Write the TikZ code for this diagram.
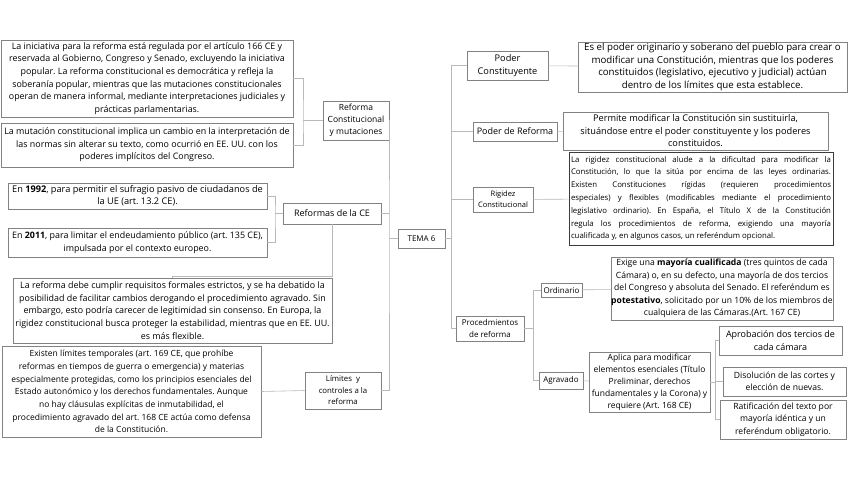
\documentclass[tikz,border=0pt]{standalone}
\usepackage{fontspec}
\setmainfont{Open Sans}
\usetikzlibrary{positioning,calc}
\definecolor{cBox}{RGB}{130,130,130}
\definecolor{cLink}{RGB}{185,185,185}
\definecolor{cDark}{RGB}{60,60,60}
\newcommand{\fsz}[2]{\fontsize{#1}{#2}\selectfont}
\frenchspacing

\begin{document}
\begin{tikzpicture}[
    x=1pt, y=-1pt,
    leaf/.style={draw=cBox,fill=white,align=center,inner sep=0pt,line width=0.6pt},
    topic/.style={leaf,font=\fsz{8.5}{12}},
    link/.style={draw=cLink,line width=0.6pt}
  ]
  \useasboundingbox (0,0) rectangle (848,477);
  % Centre
  \node[topic,minimum width=47pt,minimum height=19pt,font=\fsz{8}{11}] (tema) at (421.5,238.5) {TEMA 6};
  % Left topics
  \node[topic,minimum width=66pt,minimum height=39pt] (rcm) at (356,120.5) {Reforma\\Constitucional\\y mutaciones};
  \node[topic,minimum width=98pt,minimum height=21pt,font=\fsz{9}{12}] (ref) at (332,213.5) {Reformas de la CE};
  \node[topic,minimum width=76pt,minimum height=37pt,font=\fsz{7.8}{11.5}] (lim) at (343,390.5) {Límites~ y\\controles a la\\reforma};
  % Left texts
  \node[leaf,minimum width=292pt,minimum height=77pt,font=\fsz{8.9}{12.6}] (l1) at (147,78.5) {La iniciativa para la reforma está regulada por el artículo 166 CE y\\reservada al Gobierno, Congreso y Senado, excluyendo la iniciativa\\popular. La reforma constitucional es democrática y refleja la\\soberanía popular, mientras que las mutaciones constitucionales\\operan de manera informal, mediante interpretaciones judiciales y\\prácticas parlamentarias.};
  \node[leaf,minimum width=292pt,minimum height=44pt,font=\fsz{8.9}{12.6}] (l2) at (147,145) {La mutación constitucional implica un cambio en la interpretación de\\las normas sin alterar su texto, como ocurrió en EE. UU. con los\\poderes implícitos del Congreso.};
  \node[leaf,minimum width=259pt,minimum height=26pt,font=\fsz{9.2}{12}] (l3) at (137.5,196) {En \textbf{1992}, para permitir el sufragio pasivo de ciudadanos de\\la UE (art. 13.2 CE).};
  \node[leaf,minimum width=259pt,minimum height=29pt,font=\fsz{8.9}{12.6}] (l4) at (137.5,242.5) {En \textbf{2011}, para limitar el endeudamiento público (art. 135 CE),\\impulsada por el contexto europeo.};
  \node[leaf,minimum width=319pt,minimum height=65pt,font=\fsz{8.9}{12.6}] (l5) at (172.5,310.5) {La reforma debe cumplir requisitos formales estrictos, y se ha debatido la\\posibilidad de facilitar cambios derogando el procedimiento agravado. Sin\\embargo, esto podría carecer de legitimidad sin consenso. En Europa, la\\rigidez constitucional busca proteger la estabilidad, mientras que en EE. UU.\\es más flexible.};
  \node[leaf,minimum width=259pt,minimum height=91pt,font=\fsz{8.5}{12.7}] (l6) at (131.5,391.5) {Existen límites temporales (art. 169 CE, que prohíbe\\reformas en tiempos de guerra o emergencia) y materias\\especialmente protegidas, como los principios esenciales del\\Estado autonómico y los derechos fundamentales. Aunque\\no hay cláusulas explícitas de inmutabilidad, el\\procedimiento agravado del art. 168 CE actúa como defensa\\de la Constitución.};
  % Right topics
  \node[topic,minimum width=81pt,minimum height=29pt,font=\fsz{9.2}{13.5}] (pc) at (507.5,65.5) {Poder\\Constituyente};
  \node[topic,minimum width=84pt,minimum height=19pt,font=\fsz{9}{12}] (pr) at (515,131.5) {Poder de Reforma};
  \node[topic,minimum width=60pt,minimum height=25pt,font=\fsz{7.5}{11}] (rig) at (503,199.5) {Rigidez\\Constitucional};
  \node[topic,minimum width=68pt,minimum height=25pt,font=\fsz{8}{12}] (proc) at (490,328.5) {Procedmientos\\de reforma};
  \node[topic,minimum width=41pt,minimum height=14pt,font=\fsz{8}{11}] (ord) at (561.5,290) {Ordinario};
  \node[topic,minimum width=44pt,minimum height=17pt,font=\fsz{8}{11}] (agr) at (561,380.5) {Agravado};
  % Right texts
  \node[leaf,minimum width=269pt,minimum height=50pt,font=\fsz{9.7}{12.5}] (r1) at (712.5,67) {Es el poder originario y soberano del pueblo para crear o\\modificar una Constitución, mientras que los poderes\\constituidos (legislativo, ejecutivo y judicial) actúan\\dentro de los límites que esta establece.};
  \node[leaf,minimum width=265pt,minimum height=38pt,font=\fsz{9.2}{12.5}] (r2) at (695.5,131) {Permite modificar la Constitución sin sustituirla,\\situándose entre el poder constituyente y los poderes\\constituidos.};
  \node[leaf,draw=cDark,text width=260pt,minimum height=93pt,align=justify,inner sep=2pt,font=\fsz{7.8}{12.8}] (r3) at (701,198.5) {La rigidez constitucional alude a la dificultad para modificar la\linebreak Constitución, lo que la sitúa por encima de las leyes ordinarias.\linebreak Existen Constituciones rígidas (requieren procedimientos\linebreak especiales) y flexibles (modificables mediante el procedimiento\linebreak legislativo ordinario). En España, el Título X de la Constitución\linebreak regula los procedimientos de reforma, exigiendo una mayoría\linebreak cualificada y, en algunos casos, un referéndum opcional.};
  \node[leaf,minimum width=222pt,minimum height=63pt,font=\fsz{8.6}{12.5}] (r4) at (722,288.5) {Exige una \textbf{mayoría cualificada} (tres quintos de cada\\Cámara) o, en su defecto, una mayoría de dos tercios\\del Congreso y absoluta del Senado. El referéndum es\\\textbf{potestativo}, solicitado por un 10\% de los miembros de\\cualquiera de las Cámaras.(Art. 167 CE)};
  \node[leaf,minimum width=121pt,minimum height=60pt,font=\fsz{8.5}{12}] (r5) at (649.5,382) {Aplica para modificar\\elementos esenciales (Título\\Preliminar, derechos\\fundamentales y la Corona) y\\requiere (Art. 168 CE)};
  \node[leaf,minimum width=123pt,minimum height=29pt,font=\fsz{9}{12.5}] (r6) at (780.5,340.5) {Aprobación dos tercios de\\cada cámara};
  \node[leaf,minimum width=123pt,minimum height=29pt,font=\fsz{8.6}{12.5}] (r7) at (784.5,381.5) {Disolución de las cortes y\\elección de nuevas.};
  \node[leaf,minimum width=126pt,minimum height=39pt,font=\fsz{8.6}{12.5}] (r8) at (783,419.5) {Ratificación del texto por\\mayoría idéntica y un\\referéndum obligatorio.};
  % Junctions
  \coordinate (j1) at (303,120.5);
  \coordinate (j2) at (275,213.5);
  \coordinate (j3) at (332,276);
  \coordinate (tl) at (389,238.5);
  \coordinate (tr) at (451,238.5);
  \coordinate (j4) at (533,328.5);
  \coordinate (j5) at (715,382);
  % Left links
  \draw[link] (l1.east) -| (j1) |- (l2.east);
  \draw[link] (j1) -- (rcm.west);
  \draw[link] (l3.east) -| (j2) |- (l4.east);
  \draw[link] (j2) -- (ref.west);
  \draw[link] (ref.south) -- (j3) -| (l5.north);
  \draw[link] (l6.east) -- (lim.west);
  \draw[link] (rcm.east) -| (tl) |- (lim.east);
  \draw[link] (ref.east) -- (ref.east -| tl);
  \draw[link] (tl) -- (tema.west);
  % Right links
  \draw[link] (tema.east) -- (tr);
  \foreach \n in {pc,pr,rig,proc} {
    \draw[link] (tr) |- (\n.west);
  }
  \draw[link] (pc) -- (r1);
  \draw[link] (pr) -- (r2);
  \draw[link] (rig) -- (r3);
  \draw[link] (proc.east) -- (j4);
  \draw[link] (j4) |- (ord.west);
  \draw[link] (j4) |- (agr.west);
  \draw[link] (ord) -- (r4);
  \draw[link] (agr) -- (r5);
  \draw[link] (r5.east) -- (j5);
  \foreach \n in {r6,r7,r8} {
    \draw[link] (j5) |- (\n.west);
  }
\end{tikzpicture}
\end{document}
